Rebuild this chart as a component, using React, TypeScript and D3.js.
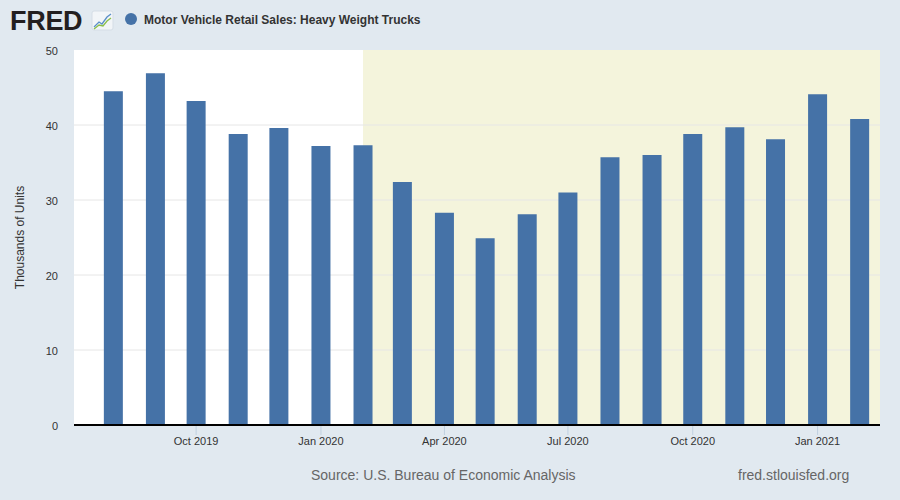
import React from 'react'
import * as d3 from 'd3'

// monthly values, thousands of units, Aug 2019 .. Feb 2021
const months: string[] = [
  '2019-08', '2019-09', '2019-10', '2019-11', '2019-12',
  '2020-01', '2020-02', '2020-03', '2020-04', '2020-05', '2020-06',
  '2020-07', '2020-08', '2020-09', '2020-10', '2020-11', '2020-12',
  '2021-01', '2021-02',
]
const sales: number[] = [
  44.5, 46.9, 43.2, 38.8, 39.6, 37.2, 37.3, 32.4, 28.3, 24.9, 28.1,
  31.0, 35.7, 36.0, 38.8, 39.7, 38.1, 44.1, 40.8,
]
const yTicks: number[] = [0, 10, 20, 30, 40, 50]
const xTickMonths: string[] = ['2019-10', '2020-01', '2020-04', '2020-07', '2020-10', '2021-01']
const recessionStart = '2020-02'

const W = 900
const H = 500
const m = {left: 74, right: 20, top: 50, bottom: 75}

const parse = d3.timeParse('%Y-%m')
const fmt = d3.timeFormat('%b %Y')

function App() {
  const x = d3
    .scaleTime()
    .domain([new Date(2019, 6, 3), new Date(2021, 1, 16)])
    .range([m.left, W - m.right])
  const y = d3
    .scaleLinear()
    .domain([0, 50])
    .range([H - m.bottom, m.top])

  const barW = 19
  const x0 = m.left
  const x1 = W - m.right
  const font = 'Arial, "Liberation Sans", sans-serif'

  return (
    <svg width={W} height={H} style={{position: 'absolute', left: 0, top: 0, background: '#e1e9f0'}}>
      {/* header */}
      <text x={10} y={30} fontFamily={font} fontWeight="bold" fontSize={27} fill="#231f20" letterSpacing={-0.3}>
        FRED
      </text>
      <g transform="translate(92,11)">
        <rect width={21} height={19} rx={2} fill="#f2f5f8" stroke="#d5dde6" />
        <path d="M2,16 L7,11 L10,13 L15,6 L19,3" fill="none" stroke="#5a8fc8" strokeWidth={1.3} />
        <path d="M2,18 L7,14 L11,15 L15,10 L19,7" fill="none" stroke="#8bbf4a" strokeWidth={1.3} />
      </g>
      <circle cx={131} cy={19} r={6} fill="#4572a7" />
      <text x={144} y={24} fontFamily={font} fontWeight="bold" fontSize={12} fill="#333">
        Motor Vehicle Retail Sales: Heavy Weight Trucks
      </text>

      {/* plot background */}
      <rect x={x0} y={m.top} width={x1 - x0} height={y(0) - m.top} fill="#fff" />
      <rect
        x={x(parse(recessionStart)!)}
        y={m.top}
        width={x1 - x(parse(recessionStart)!)}
        height={y(0) - m.top}
        fill="#f4f4dc"
      />

      {/* grid */}
      {yTicks.slice(1, -1).map((t) => (
        <line key={t} x1={x0} x2={x1} y1={y(t)} y2={y(t)} stroke="#e6e6e6" strokeWidth={1} />
      ))}
      {yTicks.map((t) => (
        <text key={'l' + t} x={58} y={y(t) + 5} textAnchor="end" fontFamily={font} fontSize={11} fill="#333">
          {t}
        </text>
      ))}
      <text
        transform={`translate(24,${(m.top + y(0)) / 2}) rotate(-90)`}
        textAnchor="middle"
        fontFamily={font}
        fontSize={12}
        fill="#333"
      >
        Thousands of Units
      </text>

      {/* bars */}
      {months.map((mo, i) => (
        <rect
          key={mo}
          x={x(parse(mo)!) - barW / 2}
          y={y(sales[i])}
          width={barW}
          height={y(0) - y(sales[i])}
          fill="#4572a7"
        />
      ))}

      {/* x axis */}
      {xTickMonths.map((mo) => {
        const px = x(parse(mo)!)
        return (
          <g key={mo}>
            <line x1={px} x2={px} y1={y(0)} y2={y(0) + 10} stroke="#c0d0e0" />
            <text x={px} y={y(0) + 20} textAnchor="middle" fontFamily={font} fontSize={11} fill="#333">
              {fmt(parse(mo)!)}
            </text>
          </g>
        )
      })}
      <line x1={x0} x2={x1} y1={y(0)} y2={y(0)} stroke="#000" strokeWidth={2} />

      {/* footer */}
      <text x={311} y={480} fontFamily={font} fontSize={14} fill="#666">
        Source: U.S. Bureau of Economic Analysis
      </text>
      <text x={738} y={480} fontFamily={font} fontSize={14} fill="#666">
        fred.stlouisfed.org
      </text>
    </svg>
  )
}

export default App
